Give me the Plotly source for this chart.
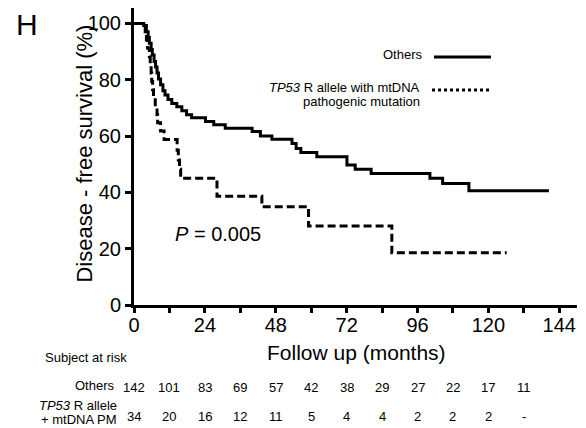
import plotly.graph_objects as go

# ---- data ----
others_t = [0, 3.3, 4.2, 4.8, 5.2, 5.8, 6.2, 6.8, 7.3, 7.8, 8.3, 9.0, 9.8, 10.5, 11.5, 12.8, 14.5, 16.2, 17.8, 19.5,
            24.2, 27.0, 30.9, 40.0, 42.8, 46.7, 53.5, 54.9, 56.5, 61.9, 72.1, 74.9, 80.3, 100.2, 104.5, 113.4, 140.5]
others_s = [100, 99.3, 97.1, 95.0, 93.0, 90.8, 88.8, 86.5, 84.5, 82.4, 80.3, 78.2, 76.1, 74.6, 73.0, 71.6, 70.4, 69.0, 67.6, 66.5,
            65.2, 64.0, 62.8, 61.6, 60.0, 58.9, 57.4, 55.6, 54.2, 52.7, 49.7, 48.2, 46.7, 45.0, 43.2, 40.6, 40.6]

tp53_t = [0, 3.8, 4.2, 4.6, 5.2, 5.5, 5.8, 6.0, 6.3, 6.6, 7.2, 7.8, 8.0, 9.0, 10.2, 14.6, 15.0, 15.4, 15.8,
          28.1, 43.3, 59.1, 87.3, 126.2]
tp53_s = [100, 97.1, 94.1, 91.2, 88.2, 85.3, 82.4, 79.4, 76.5, 73.5, 70.6, 67.6, 64.7, 61.8, 58.8, 55.0, 51.5, 48.2, 45.0,
          38.6, 34.9, 28.1, 18.6, 18.6]

risk_times = [0, 12, 24, 36, 48, 60, 72, 84, 96, 108, 120, 132]
risk_others = ["142", "101", "83", "69", "57", "42", "38", "29", "27", "22", "17", "11"]
risk_tp53 = ["34", "20", "16", "12", "11", "5", "4", "4", "2", "2", "2", "-"]

x_ticks = [0, 24, 48, 72, 96, 120, 144]
y_ticks = [0, 20, 40, 60, 80, 100]

FONT = "Arial, Liberation Sans, sans-serif"
W, H = 586, 428
L, R, T, B = 133.5, 8.8, 8, 123
PW, PH = W - L - R, H - T - B


def px(x):
    return (x - L) / PW


def py(y):
    return (H - B - y) / PH


fig = go.Figure()
fig.add_trace(go.Scatter(x=others_t, y=others_s, mode="lines", line=dict(color="black", width=3, shape="hv"),
                         showlegend=False, hoverinfo="skip"))
fig.add_trace(go.Scatter(x=tp53_t, y=tp53_s, mode="lines",
                         line=dict(color="black", width=3, shape="hv", dash="8px,4px"),
                         showlegend=False, hoverinfo="skip"))

ann = []
# panel letter
ann.append(dict(text="H", x=px(26), y=py(25), font=dict(size=30)))
# axis titles
ann.append(dict(text="Disease - free survival (%)", x=px(83), y=py(154), textangle=-90, font=dict(size=22)))
ann.append(dict(text="Follow up (months)", x=px(356), y=py(352), font=dict(size=21)))
ann.append(dict(text="Subject at risk", x=px(85), y=py(357), font=dict(size=13)))
# p-value
ann.append(dict(text="<i>P</i> = 0.005", x=px(218), y=py(234), font=dict(size=20)))
# legend texts
ann.append(dict(text="Others", x=px(425), y=py(55), xanchor="right", font=dict(size=13)))
ann.append(dict(text="<i>TP53</i> R allele with mtDNA", x=px(422), y=py(87), xanchor="right", font=dict(size=13)))
ann.append(dict(text="pathogenic mutation", x=px(422), y=py(101), xanchor="right", font=dict(size=13)))
# at-risk rows
ann.append(dict(text="Others", x=px(116), y=py(385), xanchor="right", font=dict(size=13)))
ann.append(dict(text="<i>TP53</i> R allele", x=px(118), y=py(406), xanchor="right", font=dict(size=13)))
ann.append(dict(text="+ mtDNA PM", x=px(118), y=py(419), xanchor="right", font=dict(size=13)))
for t, a, b in zip(risk_times, risk_others, risk_tp53):
    ann.append(dict(text=a, x=t, xref="x", y=py(387), font=dict(size=13)))
    ann.append(dict(text=b, x=t, xref="x", y=py(416), font=dict(size=13)))

for a in ann:
    a.setdefault("xref", "paper")
    a.setdefault("yref", "paper")
    a.setdefault("xanchor", "center")
    a.setdefault("yanchor", "middle")
    a["showarrow"] = False
    a["font"] = dict(family=FONT, color="black", size=a["font"]["size"])

shapes = [
    dict(type="line", xref="paper", yref="paper", x0=px(434), x1=px(491), y0=py(57), y1=py(57),
         line=dict(color="black", width=3)),
    dict(type="line", xref="paper", yref="paper", x0=px(432), x1=px(491), y0=py(90), y1=py(90),
         line=dict(color="black", width=3, dash="dot")),
]

fig.update_layout(
    width=W, height=H,
    margin=dict(l=L, r=R, t=T, b=B, pad=0),
    paper_bgcolor="white", plot_bgcolor="white",
    font=dict(family=FONT, color="black"),
    annotations=ann, shapes=shapes, showlegend=False,
    xaxis=dict(range=[0, 150], tickvals=x_ticks, ticks="outside", ticklen=5, tickwidth=2.5, tickcolor="black",
               showline=True, linecolor="black", linewidth=3, showgrid=False, zeroline=False,
               ticklabelstandoff=-5,
               tickfont=dict(size=20, family=FONT, color="black"),
               minor=dict(dtick=12, tick0=0, ticks="outside", ticklen=5, tickwidth=2.5, tickcolor="black", showgrid=False)),
    yaxis=dict(range=[0, 105.5], tickvals=y_ticks, ticks="outside", ticklen=6, tickwidth=2.5, tickcolor="black",
               showline=True, linecolor="black", linewidth=3, showgrid=False, zeroline=False,
               tickfont=dict(size=20, family=FONT, color="black")),
)

fig.write_html("out.html")
